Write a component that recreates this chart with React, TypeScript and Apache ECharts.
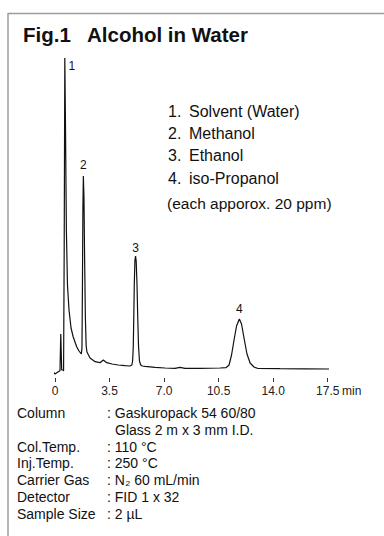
import React, { useEffect, useRef } from "react";
import * as echarts from "echarts";

// Chromatogram trace (time in min, detector signal in arbitrary units)
const times = [
  -0.11, 0.0, 0.21, 0.32, 0.37, 0.43, 0.53, 0.55, 0.59, 0.63, 0.67, 0.73, 0.8, 0.9, 1.03, 1.17, 1.39, 1.54,
  1.69, 1.73, 1.76, 1.79, 1.82, 1.86, 1.9, 1.95, 2.0, 2.05, 2.25, 2.57, 2.89, 3.1, 3.32, 3.66, 4.06, 4.49, 4.81,
  4.93, 4.98, 5.02, 5.05, 5.09, 5.13, 5.17, 5.21, 5.26, 5.31, 5.36, 5.42, 5.5, 5.6, 5.78, 6.42, 7.06, 7.7, 8.02,
  8.34, 9.31, 10.59, 10.97, 11.17, 11.33, 11.49, 11.65, 11.83, 11.97, 12.13, 12.32, 12.52, 12.77, 13.03, 14.44,
  16.05, 17.6,
];
const signal = [
  6.3, 4, 6.3, 7.3, 44, 8, 8, 7, 128, 320, 258, 148, 93, 68, 50, 41, 31.3, 27,
  24, 30, 90, 170, 202, 180, 120, 60, 32, 26, 20, 16.3, 15.3, 18, 15.3, 14, 13, 12.3, 12,
  13, 17, 30, 55, 95, 118, 122, 117, 95, 60, 32, 17, 13, 12, 11.7, 10.7, 10, 9.7, 10.7,
  9.7, 9.7, 10, 10.3, 13, 23, 38, 52, 59, 54, 40, 24, 15, 11, 9.5, 9.3,
  9.2, 9,
];

// Peak annotations
const peakLabels = ["1", "2", "3", "4"];
const peakTimes = [0.63, 1.82, 5.17, 11.83];
const peakHeights = [320, 202, 122, 59];

// Legend of compounds
const compounds = ["Solvent (Water)", "Methanol", "Ethanol", "iso-Propanol"];
const noteText = "(each apporox. 20 ppm)";

// Conditions
const condLabels = ["Column", "", "Col.Temp.", "Inj.Temp.", "Carrier Gas", "Detector", "Sample Size"];
const condValues = [
  ": Gaskuropack 54 60/80",
  "Glass 2 m x 3 mm I.D.",
  ": 110 °C",
  ": 250 °C",
  ": N₂ 60 mL/min",
  ": FID 1 x 32",
  ": 2 µL",
];

const FONT = "'Liberation Sans', Arial, Helvetica, sans-serif";

export default function App() {
  const ref = useRef<HTMLDivElement>(null);
  useEffect(() => {
    if (!ref.current) return;
    const chart = echarts.init(ref.current, null, { renderer: "svg" });
    const labelOffsets = [
      [7, 14],
      [0, -5],
      [0, -2],
      [0, -4],
    ];
    const graphics: any[] = [
      { type: "line", shape: { x1: 8, y1: 13.5, x2: 384, y2: 13.5 }, style: { stroke: "#9c9c9c", lineWidth: 1.5 } },
      { type: "line", shape: { x1: 8, y1: 13, x2: 8, y2: 536 }, style: { stroke: "#9c9c9c", lineWidth: 1.5 } },
      {
        type: "text",
        x: 23,
        y: 34.5,
        style: { text: "Fig.1", fontFamily: FONT, fontSize: 20.5, fontWeight: "bold", fill: "#111", verticalAlign: "middle" },
      },
      {
        type: "text",
        x: 87,
        y: 34.5,
        style: { text: "Alcohol in Water", fontFamily: FONT, fontSize: 20.5, fontWeight: "bold", fill: "#111", verticalAlign: "middle" },
      },
      {
        type: "text",
        x: 342,
        y: 391,
        style: { text: "min", fontFamily: FONT, fontSize: 12, fill: "#222", verticalAlign: "middle" },
      },
    ];
    compounds.forEach((c, i) => {
      const y = 111 + i * 22.4;
      graphics.push({
        type: "text",
        x: 168,
        y,
        style: { text: `${i + 1}.`, fontFamily: FONT, fontSize: 16, fill: "#111", verticalAlign: "middle" },
      });
      graphics.push({
        type: "text",
        x: 189,
        y,
        style: { text: c, fontFamily: FONT, fontSize: 16, fill: "#111", verticalAlign: "middle" },
      });
    });
    graphics.push({
      type: "text",
      x: 167,
      y: 203,
      style: { text: noteText, fontFamily: FONT, fontSize: 15.5, fill: "#111", verticalAlign: "middle" },
    });
    condLabels.forEach((l, i) => {
      const y = 413 + i * 16.8;
      if (l) {
        graphics.push({
          type: "text",
          x: 17,
          y,
          style: { text: l, fontFamily: FONT, fontSize: 14, fill: "#111", verticalAlign: "middle" },
        });
      }
      graphics.push({
        type: "text",
        x: l ? 107 : 115,
        y,
        style: { text: condValues[i], fontFamily: FONT, fontSize: 14, fill: "#111", verticalAlign: "middle" },
      });
    });

    chart.setOption({
      animation: false,
      backgroundColor: "#fff",
      grid: { left: 55, width: 272.7, top: 58, height: 320 },
      xAxis: {
        type: "value",
        min: 0,
        max: 17.5,
        interval: 3.5,
        axisLine: { show: false },
        axisTick: { show: true, length: 4, lineStyle: { color: "#333", width: 1 } },
        splitLine: { show: false },
        axisLabel: {
          margin: 7,
          fontFamily: FONT,
          fontSize: 12,
          color: "#222",
          formatter: (v: number) => (v === 0 ? "0" : v.toFixed(1)),
        },
      },
      yAxis: { type: "value", min: 0, max: 320, show: false },
      series: [
        {
          type: "line",
          data: times.map((t, i) => [t, signal[i]]),
          showSymbol: false,
          clip: false,
          silent: true,
          lineStyle: { color: "#111", width: 1.2 },
          markPoint: {
            silent: true,
            symbol: "circle",
            symbolSize: 0.1,
            itemStyle: { color: "#111", opacity: 1 },
            label: {
              show: true,
              position: "top",
              distance: 0,
              fontFamily: FONT,
              fontSize: 12,
              color: "#111",
              opacity: 1,
            },
            data: peakTimes.map((t, i) => ({
              coord: [t, peakHeights[i]],
              value: peakLabels[i],
              label: { offset: labelOffsets[i], formatter: peakLabels[i] },
            })),
          },
        },
      ],
      graphic: graphics,
    });
    return () => chart.dispose();
  }, []);
  return <div ref={ref} style={{ position: "fixed", left: 0, top: 0, width: 384, height: 536 }} />;
}
